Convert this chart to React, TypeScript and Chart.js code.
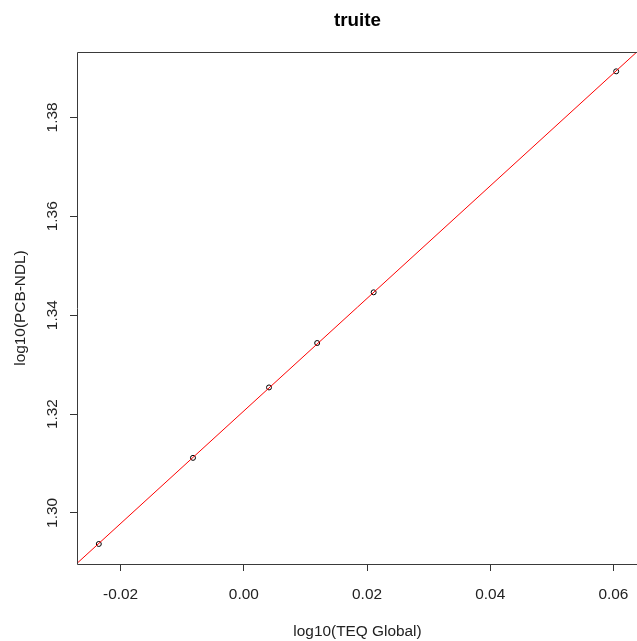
import React, { useEffect, useRef } from "react";
import { Chart, registerables } from "chart.js";

Chart.register(...registerables);

const chartTitle = "truite";
const xAxisLabel = "log10(TEQ Global)";
const yAxisLabel = "log10(PCB-NDL)";

const xValues = [-0.02354, -0.00825, 0.00409, 0.01191, 0.02108, 0.06045];
const yValues = [1.29372, 1.31114, 1.32538, 1.33437, 1.34462, 1.38932];

const xTicks = [-0.02, 0.0, 0.02, 0.04, 0.06];
const xTickLabels = ["-0.02", "0.00", "0.02", "0.04", "0.06"];
const yTicks = [1.3, 1.32, 1.34, 1.36, 1.38];
const yTickLabels = ["1.30", "1.32", "1.34", "1.36", "1.38"];

const xMin = -0.02708;
const xMax = 0.06399;
const yMin = 1.28967;
const yMax = 1.39323;

// least-squares fit (abline(lm(y ~ x)))
function fitLine(xs: number[], ys: number[]) {
  const n = xs.length;
  const mx = xs.reduce((a, b) => a + b, 0) / n;
  const my = ys.reduce((a, b) => a + b, 0) / n;
  let sxy = 0;
  let sxx = 0;
  for (let i = 0; i < n; i++) {
    sxy += (xs[i] - mx) * (ys[i] - my);
    sxx += (xs[i] - mx) * (xs[i] - mx);
  }
  const b = sxy / sxx;
  return { a: my - b * mx, b };
}

const FONT = '"Liberation Sans", Arial, sans-serif';
const LABEL_SIZE = 15.4;
const TITLE_SIZE = 18.8;

const decorPlugin = {
  id: "decor",
  afterDatasetsDraw(chart: any) {
    const { ctx, chartArea: ca } = chart;
    ctx.save();
    ctx.lineWidth = 1;
    ctx.strokeStyle = "#3a3a3a";
    const l = Math.round(ca.left) + 0.5;
    const t = Math.round(ca.top) + 0.5;
    const r = Math.round(ca.right) + 0.5;
    const b = Math.round(ca.bottom) + 0.5;
    ctx.beginPath();
    ctx.moveTo(l, b);
    ctx.lineTo(l, t);
    ctx.lineTo(r, t);
    ctx.lineTo(r, b);
    ctx.closePath();
    ctx.stroke();
    ctx.restore();
  },
  afterDraw(chart: any) {
    const { ctx, chartArea: ca, scales } = chart;
    const cx = (ca.left + ca.right) / 2;
    const cy = (ca.top + ca.bottom) / 2;
    ctx.save();
    ctx.textAlign = "center";
    ctx.textBaseline = "alphabetic";

    // title
    ctx.font = `bold ${TITLE_SIZE}px ${FONT}`;
    ctx.fillStyle = "#000";
    ctx.fillText(chartTitle, cx, 26);

    ctx.fillStyle = "#222";
    ctx.font = `${LABEL_SIZE}px ${FONT}`;
    // x tick labels
    scales.x.ticks.forEach((tk: any) => {
      const i = xTicks.indexOf(tk.value);
      if (i < 0) return;
      ctx.fillText(xTickLabels[i], scales.x.getPixelForValue(tk.value), 598.5);
    });
    // x axis title
    ctx.fillText(xAxisLabel, cx, 636);

    // y tick labels (rotated)
    scales.y.ticks.forEach((tk: any) => {
      const i = yTicks.indexOf(tk.value);
      if (i < 0) return;
      const py = scales.y.getPixelForValue(tk.value);
      ctx.save();
      ctx.translate(57, py);
      ctx.rotate(-Math.PI / 2);
      ctx.fillText(yTickLabels[i], 0, 0);
      ctx.restore();
    });
    // y axis title
    ctx.save();
    ctx.translate(24.5, cy);
    ctx.rotate(-Math.PI / 2);
    ctx.fillText(yAxisLabel, 0, 0);
    ctx.restore();

    ctx.restore();
  },
};

export default function App() {
  const canvasRef = useRef<HTMLCanvasElement | null>(null);

  useEffect(() => {
    if (!canvasRef.current) return;
    const { a, b } = fitLine(xValues, yValues);
    const points = xValues.map((x, i) => ({ x, y: yValues[i] }));
    const linePts = [
      { x: xMin, y: a + b * xMin },
      { x: xMax, y: a + b * xMax },
    ];
    const chart = new Chart(canvasRef.current, {
      type: "scatter",
      data: {
        datasets: [
          {
            type: "line",
            data: linePts,
            borderColor: "#ff0000",
            borderWidth: 1,
            pointRadius: 0,
            fill: false,
          } as any,
          {
            data: points,
            pointStyle: "circle",
            pointRadius: 2.5,
            pointBorderWidth: 1,
            pointBorderColor: "#000",
            pointBackgroundColor: "rgba(0,0,0,0)",
            showLine: false,
          },
        ],
      },
      options: {
        animation: false,
        responsive: false,
        maintainAspectRatio: false,
        layout: { padding: { left: 0, right: 0, top: 52, bottom: 0 } },
        plugins: {
          legend: { display: false },
          tooltip: { enabled: false },
          title: { display: false },
        },
        scales: {
          x: {
            type: "linear",
            position: "bottom",
            min: xMin,
            max: xMax,
            afterBuildTicks: (s: any) => {
              s.ticks = xTicks.map((v) => ({ value: v }));
            },
            afterFit: (s: any) => {
              s.height = 77;
            },
            ticks: { display: false },
            border: { display: false },
            grid: {
              drawOnChartArea: false,
              drawTicks: true,
              tickLength: 7,
              tickColor: "#333",
              tickWidth: 1,
            },
          },
          y: {
            type: "linear",
            position: "left",
            min: yMin,
            max: yMax,
            afterBuildTicks: (s: any) => {
              s.ticks = yTicks.map((v) => ({ value: v }));
            },
            afterFit: (s: any) => {
              s.width = 77;
            },
            ticks: { display: false },
            border: { display: false },
            grid: {
              drawOnChartArea: false,
              drawTicks: true,
              tickLength: 7,
              tickColor: "#333",
              tickWidth: 1,
            },
          },
        },
      },
      plugins: [decorPlugin],
    });
    return () => chart.destroy();
  }, []);

  return (
    <div
      style={{
        position: "fixed",
        left: 0,
        top: 0,
        width: 637,
        height: 641,
        overflow: "hidden",
        background: "#fff",
      }}
    >
      <canvas ref={canvasRef} width={643} height={641} style={{ display: "block" }} />
    </div>
  );
}
